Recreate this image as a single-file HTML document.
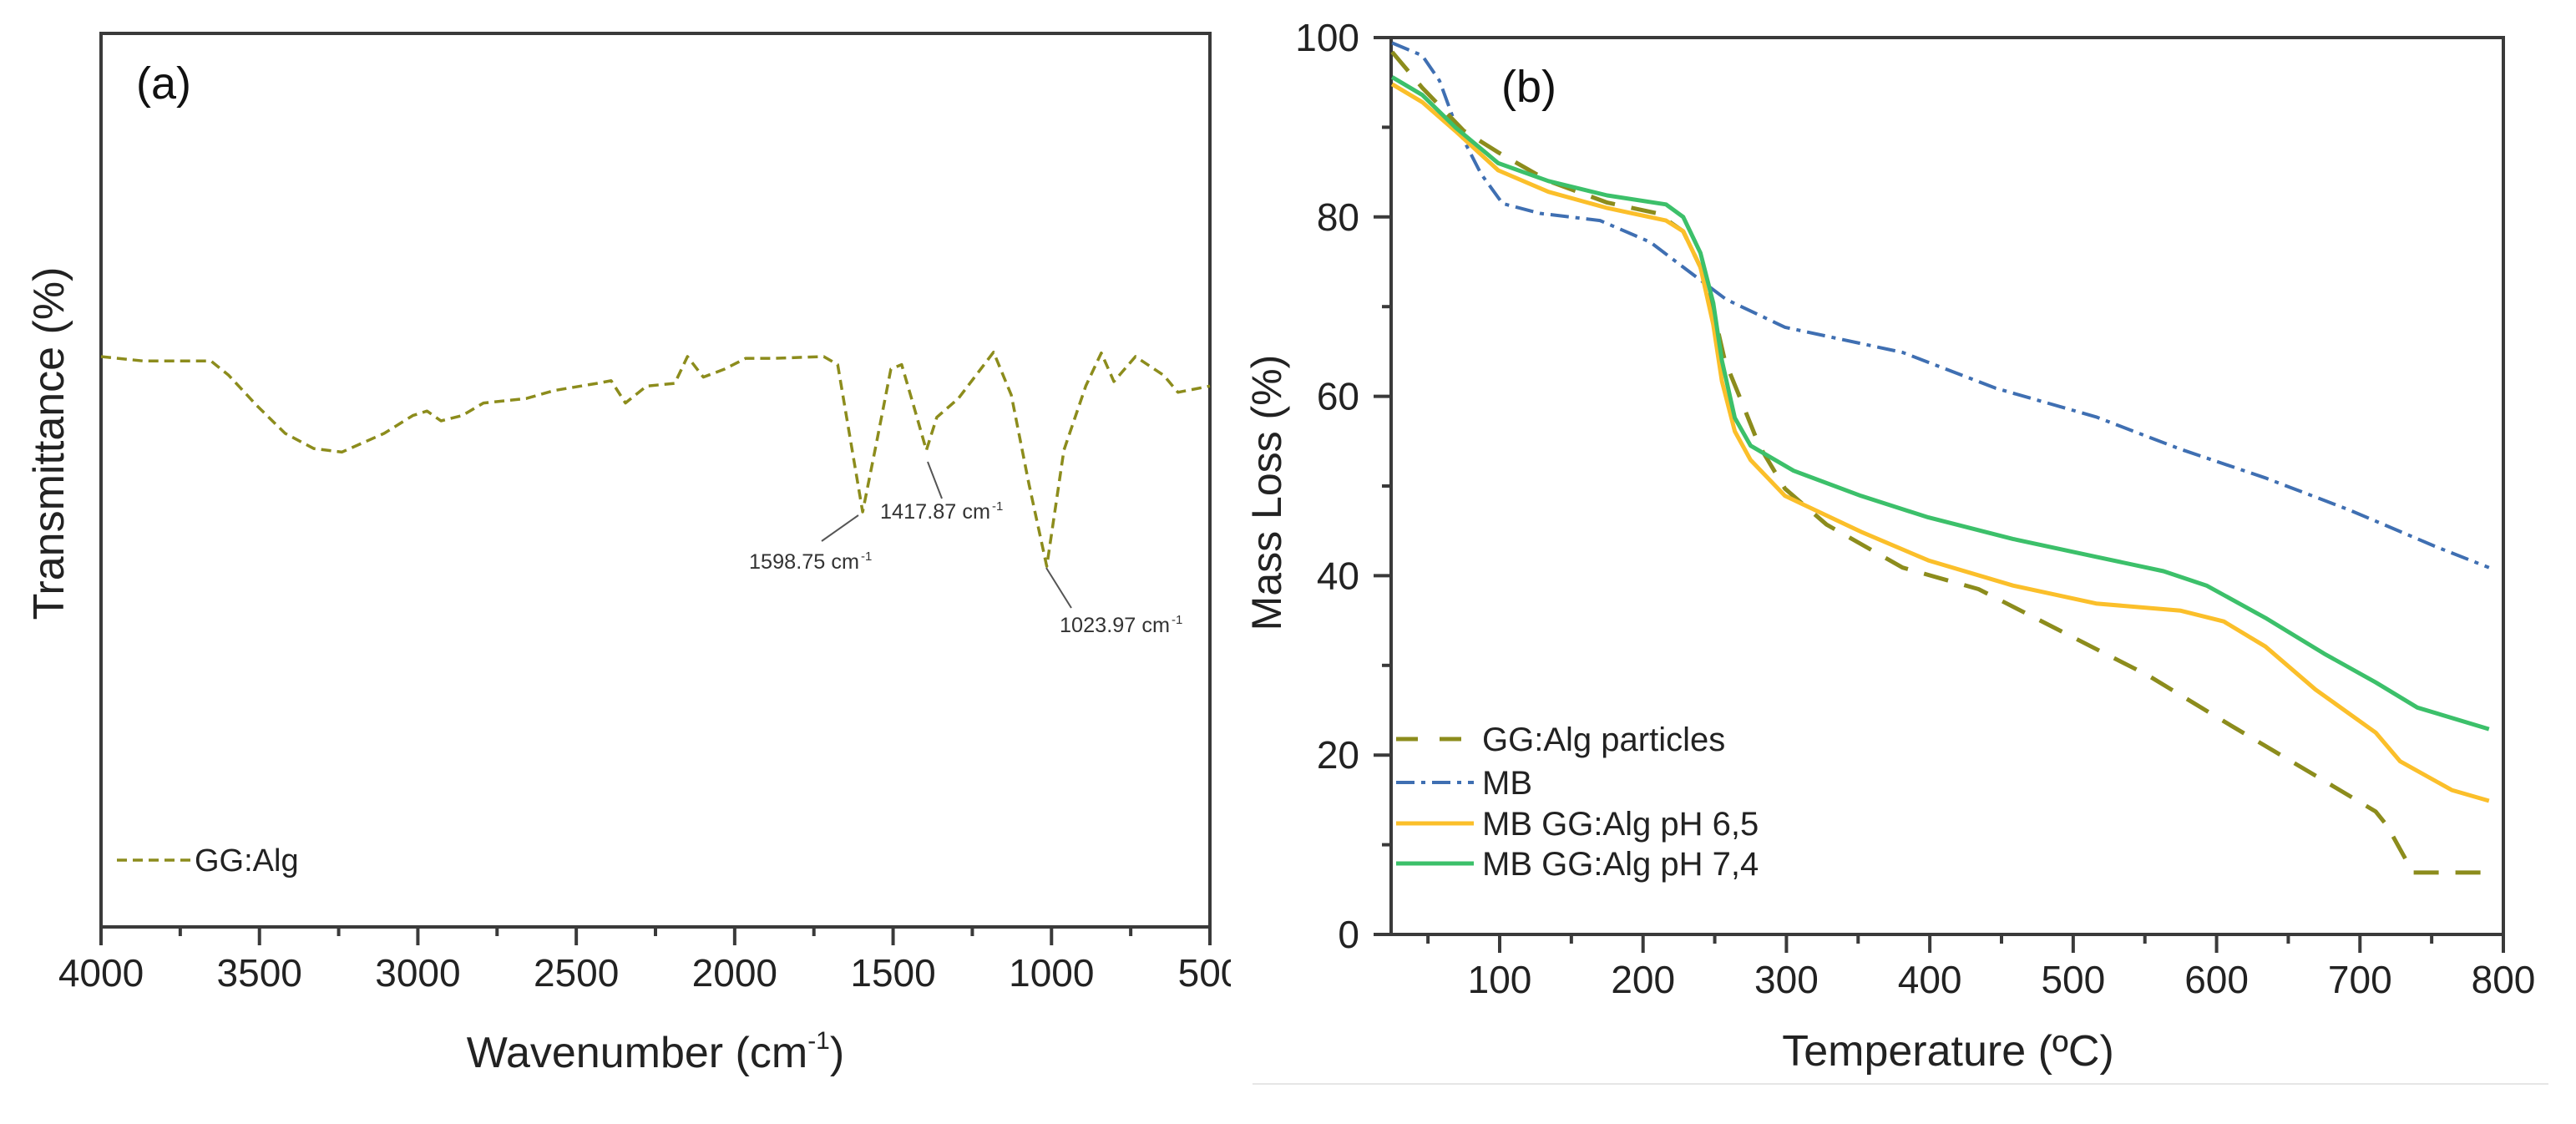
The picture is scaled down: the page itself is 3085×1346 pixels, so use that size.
<!DOCTYPE html>
<html><head><meta charset="utf-8"><style>
html,body{margin:0;padding:0;background:#fff;}
svg{display:block;font-family:"Liberation Sans",Arial,sans-serif;}
</style></head><body>
<svg id="chart" width="3085" height="1346" viewBox="0 0 3085 1346" xmlns="http://www.w3.org/2000/svg">
<defs><clipPath id="clipA"><rect x="0" y="0" width="1474" height="1346"/></clipPath></defs>
<g id="panelA" clip-path="url(#clipA)"></g>
<g id="panelB"></g>
<line x1="1500" y1="1298" x2="3052" y2="1298" stroke="#e6e6e6" stroke-width="2"/>
</svg>
<script>
// ---- Panel (a) data: FTIR spectrum ----
const ftirWavenumber = [4000,3866,3653,3597,3508,3419,3329,3240,3106,3016,2971,2927,2860,2793,2658,2569,2435,2390,2345,2278,2189,2149,2099,2032,1965,1876,1719,1675,1596,1552,1507,1473,1440,1395,1362,1294,1183,1127,1071,1015,961,892,843,803,735,646,601,500];
const ftirTransmittance = [96.5,96,96,94.4,91,87.9,86.2,85.8,87.9,89.9,90.4,89.3,89.9,91.3,91.8,92.7,93.5,93.8,91.3,93.2,93.5,96.5,94.2,95.1,96.3,96.3,96.5,95.6,79.1,86.9,95.1,95.6,91.6,86,89.7,91.8,97,92.2,82.2,73,86,93.2,96.9,93.7,96.5,94.4,92.5,93.2];
const ftirXTicks = [4000,3500,3000,2500,2000,1500,1000,500];
const ftirPeaks = ["1598.75 cm","1417.87 cm","1023.97 cm"];

// ---- Panel (b) data: TGA curves ----
const ggT = [25,46,75,99,134,175,210,228,240,249,257,269,281,299,328,381,434,493,552,610,669,711,719,737,790];
const ggM = [98.4,94.4,89.6,87.2,84,81.6,80.4,78.4,74.4,69.6,64,59.3,54.5,49.7,45.7,40.9,38.5,33.7,28.9,23.3,17.7,13.7,12.1,6.9,6.9];
const mbT = [25,46,58,69,87,102,128,170,205,228,258,299,381,446,516,575,634,693,752,790];
const mbM = [99.4,98,95.2,90.4,84.8,81.5,80.4,79.6,77.2,74.4,70.8,67.7,64.9,60.9,57.7,54.1,50.9,47.3,43.3,40.9];
const p65T = [25,46,69,99,134,175,216,228,240,249,255,264,275,299,352,399,458,516,575,605,634,669,711,728,764,790];
const p65M = [94.8,92.8,89.6,85.2,82.8,81,79.6,78.4,74.4,68,61.7,56.1,52.9,48.9,44.9,41.7,38.9,36.9,36.1,34.9,32.1,27.3,22.5,19.3,16.1,14.9];
const p74T = [25,46,69,99,134,175,216,228,240,249,255,264,275,305,352,399,458,516,563,593,634,675,711,740,790];
const p74M = [95.6,93.6,90,86,84,82.4,81.4,80,76,70.4,64,57.6,54.5,51.7,48.9,46.5,44.1,42.1,40.5,38.9,35.3,31.3,28.1,25.3,22.9];
const tgaXTicks = [100,200,300,400,500,600,700,800];
const tgaYTicks = [0,20,40,60,80,100];
const tgaLegend = ["GG:Alg particles","MB","MB GG:Alg pH 6,5","MB GG:Alg pH 7,4"];

const NS="http://www.w3.org/2000/svg";
function mk(tag,attrs,parent){const e=document.createElementNS(NS,tag);for(const k in attrs)e.setAttribute(k,attrs[k]);parent.appendChild(e);return e;}

// ---- Panel A ----
const A=document.getElementById('panelA');
const aL=121,aR=1449,aT=40,aB=1110;
const ax=w=>aL+(4000-w)/3500*(aR-aL);
const ay=t=>427+(96.5-t)*(613-427)/(96.5-79.1);
const frameA=mk('rect',{x:aL,y:aT,width:aR-aL,height:aB-aT,fill:'none',stroke:'#3a3a3a','stroke-width':4},A);


for(let w=4000;w>=500;w-=250){
  const major=(w%500===0);
  const t=mk('line',{x1:ax(w),y1:aB,x2:ax(w),y2:aB+(major?22:11),stroke:'#3a3a3a','stroke-width':4},A);
  
  
}
ftirXTicks.forEach(w=>{
  const t=mk('text',{x:ax(w),y:1181,'text-anchor':'middle','font-size':46,fill:'#222'},A);
  t.textContent=String(w);
  
  
});
const ftirPts=ftirWavenumber.map((w,i)=>ax(w).toFixed(1)+','+ay(ftirTransmittance[i]).toFixed(1)).join(' ');
const ftirLine=mk('polyline',{points:ftirPts,fill:'none',stroke:'#8c8c1c','stroke-width':3.5,'stroke-dasharray':'12 7','stroke-linejoin':'round'},A);


const annot=[[1028,617,984,648,897,681],[1111,553,1128,597,1054,621],[1253,680,1283,728,1269,757]];
annot.forEach((a,i)=>{
  const l=mk('line',{x1:a[0],y1:a[1],x2:a[2],y2:a[3],stroke:'#555','stroke-width':2},A);
  
  
  const t=mk('text',{x:a[4],y:a[5],'font-size':25,fill:'#333','textLength':132,'lengthAdjust':'spacingAndGlyphs'},A);
  t.textContent=ftirPeaks[i];
  
  
  const s=mk('text',{x:a[4]+134,y:a[5]-10,'font-size':15,fill:'#333'},A);
  s.textContent='-1';
  
  
});
const la=mk('text',{x:163,y:118,'font-size':54,fill:'#111'},A);la.textContent='(a)';


const ayl=mk('text',{x:0,y:0,'font-size':52,fill:'#222','text-anchor':'middle',transform:'translate(76,531) rotate(-90)'},A);ayl.textContent='Transmittance (%)';


const axl=mk('text',{x:785,y:1278,'font-size':52,fill:'#222','text-anchor':'middle'},A);
axl.innerHTML='Wavenumber (cm<tspan font-size="30" dy="-22">-1</tspan><tspan dy="22">)</tspan>';


const lgA=mk('line',{x1:140,y1:1030,x2:228,y2:1030,stroke:'#8c8c1c','stroke-width':3.5,'stroke-dasharray':'12 7'},A);


const lgAt=mk('text',{x:233,y:1043,'font-size':38,fill:'#222'},A);lgAt.textContent='GG:Alg';



// ---- Panel B ----
const B=document.getElementById('panelB');
const bL=1666,bR=2998,bT=45,bB=1119,tMin=24.3,tMax=800;
const bx=t=>bL+(t-tMin)/(tMax-tMin)*(bR-bL);
const by=m=>bB-m/100*(bB-bT);
const frameB=mk('rect',{x:bL,y:bT,width:bR-bL,height:bB-bT,fill:'none',stroke:'#3a3a3a','stroke-width':4},B);


for(let t=50;t<=800;t+=50){
  const major=(t%100===0);
  const e=mk('line',{x1:bx(t),y1:bB,x2:bx(t),y2:bB+(major?22:11),stroke:'#3a3a3a','stroke-width':4},B);
  
  
}
for(let m=0;m<=100;m+=10){
  const major=(m%20===0);
  const e=mk('line',{x1:bL-(major?21:11),y1:by(m),x2:bL,y2:by(m),stroke:'#3a3a3a','stroke-width':4},B);
  
  
}
tgaXTicks.forEach(t=>{
  const e=mk('text',{x:bx(t),y:1189,'text-anchor':'middle','font-size':46,fill:'#222'},B);e.textContent=String(t);
  
  
});
tgaYTicks.forEach(m=>{
  const e=mk('text',{x:1628,y:by(m)+16,'text-anchor':'end','font-size':46,fill:'#222'},B);e.textContent=String(m);
  
  
});
const series=[
  {T:ggT,M:ggM,c:'#8c8c1c',w:5,d:'30 20',n:'gg-alg-particles-curve'},
  {T:mbT,M:mbM,c:'#3f6fb2',w:4,d:'22 8 5 8',n:'mb-curve'},
  {T:p65T,M:p65M,c:'#fbbf2a',w:5,d:'',n:'mb-gg-alg-ph65-curve'},
  {T:p74T,M:p74M,c:'#3cc06a',w:5,d:'',n:'mb-gg-alg-ph74-curve'}
];
[1,0,2,3].forEach(i=>{
  const s=series[i];
  const pts=s.T.map((t,j)=>bx(t).toFixed(1)+','+by(s.M[j]).toFixed(1)).join(' ');
  const attrs={points:pts,fill:'none',stroke:s.c,'stroke-width':s.w,'stroke-linejoin':'round'};
  if(s.d)attrs['stroke-dasharray']=s.d;
  const p=mk('polyline',attrs,B);
  
  
});
const legY=[885,937,986,1034];
series.forEach((s,i)=>{
  const attrs={x1:1672,y1:legY[i],x2:1765,y2:legY[i],stroke:s.c,'stroke-width':s.w};
  if(s.d)attrs['stroke-dasharray']=i===0?'26 26':'22 8 5 8';
  const l=mk('line',attrs,B);
  
  
  const t=mk('text',{x:1775,y:legY[i]+14,'font-size':40,fill:'#222'},B);t.textContent=tgaLegend[i];
  
  
});
const lb=mk('text',{x:1798,y:122,'font-size':54,fill:'#111'},B);lb.textContent='(b)';


const byl=mk('text',{x:0,y:0,'font-size':50,fill:'#222','text-anchor':'middle',transform:'translate(1534,590) rotate(-90)'},B);byl.textContent='Mass Loss (%)';


const bxl=mk('text',{x:2333,y:1276,'font-size':52,fill:'#222','text-anchor':'middle'},B);bxl.textContent='Temperature (ºC)';


</script>
</body></html>
